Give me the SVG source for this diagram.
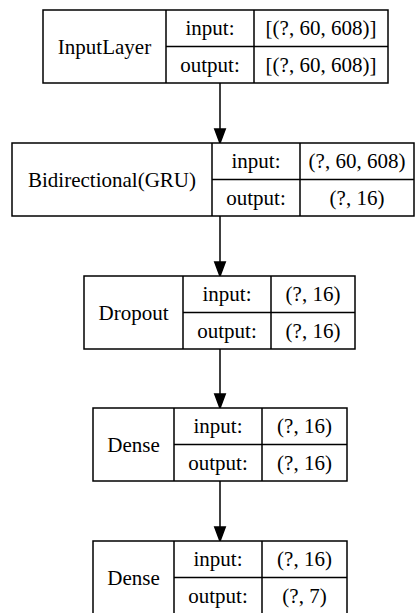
<svg xmlns="http://www.w3.org/2000/svg" width="419" height="613" viewBox="0 0 419 613">
<style>
.box{fill:#fff;stroke:#000;stroke-width:1.5}
.ln{stroke:#000;stroke-width:1.5;fill:none}
text{font-family:"Liberation Serif","Times New Roman",serif;font-size:21px;fill:#000;text-anchor:middle}
.edge{stroke:#000;stroke-width:1.5;fill:none}
.head{fill:#000;stroke:#000;stroke-width:1.5}
</style>
<rect width="419" height="613" fill="#fff"/>
<g id="connectors">
<line class="edge" x1="220" y1="83" x2="220" y2="129"/>
<polygon class="head" points="214.75,129 225.25,129 220,143"/>
<line class="edge" x1="220" y1="216" x2="220" y2="262"/>
<polygon class="head" points="214.75,262 225.25,262 220,276"/>
<line class="edge" x1="220" y1="349" x2="220" y2="394"/>
<polygon class="head" points="214.75,394 225.25,394 220,408"/>
<line class="edge" x1="220" y1="481" x2="220" y2="527"/>
<polygon class="head" points="214.75,527 225.25,527 220,541"/>
</g>
<g id="node1">
<rect class="box" x="43" y="10" width="345" height="73"/>
<path class="ln" d="M166 10V83M254 10V83M166 46.5H388"/>
<text x="104.5" y="53.5">InputLayer</text>
<text x="210" y="35.25">input:</text>
<text x="210" y="71.75">output:</text>
<text x="321" y="35.25">[(?, 60, 608)]</text>
<text x="321" y="71.75">[(?, 60, 608)]</text>
</g>
<g id="node2">
<rect class="box" x="12" y="143" width="402" height="73"/>
<path class="ln" d="M212 143V216M300 143V216M212 179.5H414"/>
<text x="112" y="186.5">Bidirectional(GRU)</text>
<text x="256" y="168.25">input:</text>
<text x="256" y="204.75">output:</text>
<text x="357" y="168.25">(?, 60, 608)</text>
<text x="357" y="204.75">(?, 16)</text>
</g>
<g id="node3">
<rect class="box" x="84" y="276" width="271" height="73"/>
<path class="ln" d="M183 276V349M271 276V349M183 312.5H355"/>
<text x="133.5" y="319.5">Dropout</text>
<text x="227" y="301.25">input:</text>
<text x="227" y="337.75">output:</text>
<text x="313" y="301.25">(?, 16)</text>
<text x="313" y="337.75">(?, 16)</text>
</g>
<g id="node4">
<rect class="box" x="93" y="408" width="254" height="73"/>
<path class="ln" d="M174 408V481M262 408V481M174 444.5H347"/>
<text x="133.5" y="451.5">Dense</text>
<text x="218" y="433.25">input:</text>
<text x="218" y="469.75">output:</text>
<text x="304.5" y="433.25">(?, 16)</text>
<text x="304.5" y="469.75">(?, 16)</text>
</g>
<g id="node5">
<rect class="box" x="93" y="541" width="254" height="73"/>
<path class="ln" d="M174 541V614M262 541V614M174 577.5H347"/>
<text x="133.5" y="584.5">Dense</text>
<text x="218" y="566.25">input:</text>
<text x="218" y="602.75">output:</text>
<text x="304.5" y="566.25">(?, 16)</text>
<text x="304.5" y="602.75">(?, 7)</text>
</g>
</svg>
